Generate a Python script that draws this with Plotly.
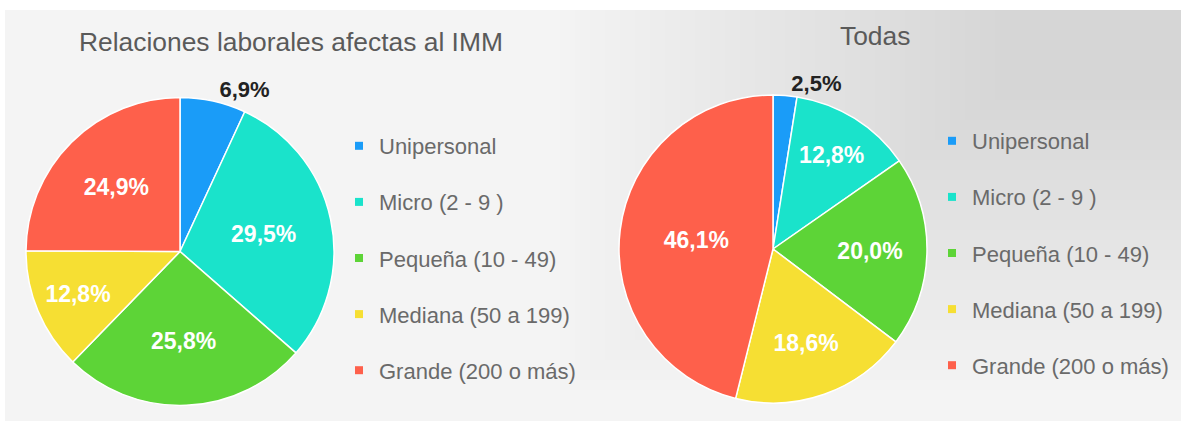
import plotly.graph_objects as go

W, H = 1181, 428

categories = ["Unipersonal", "Micro (2 - 9 )", "Pequeña (10 - 49)", "Mediana (50 a 199)", "Grande (200 o más)"]
imm_values = [6.9, 29.5, 25.8, 12.8, 24.9]
todas_values = [2.5, 12.8, 20.0, 18.6, 46.1]
colors = ["#1a9cf8", "#1ae3cb", "#5dd437", "#f6df33", "#fe604b"]
title_left = "Relaciones laborales afectas al IMM"
title_right = "Todas"

FONT = "Liberation Sans"


def px_x(x):
    return x / W


def px_y(y):
    return 1 - y / H


fig = go.Figure()


def add_pie(values, cx, cy, r):
    positions = ["outside" if v < 10 else "inside" for v in values]
    fig.add_trace(go.Pie(
        labels=categories,
        values=values,
        sort=False,
        direction="clockwise",
        rotation=0,
        marker=dict(colors=colors, line=dict(color="white", width=1.5)),
        texttemplate="%{value:.1f}%",
        textposition=positions,
        insidetextorientation="horizontal",
        insidetextfont=dict(family=FONT, size=23, color="white", weight="bold"),
        outsidetextfont=dict(family=FONT, size=22, color="#222222", weight="bold"),
        showlegend=False,
        domain=dict(x=[px_x(cx - r), px_x(cx + r)], y=[px_y(cy + r), px_y(cy - r)]),
        hoverinfo="label+percent",
    ))


add_pie(imm_values, 180, 251.5, 154)
add_pie(todas_values, 773, 249, 154)

# legend entries (one group per category so spacing can be controlled)
for legend_name in ["legend", "legend2"]:
    for cat, col in zip(categories, colors):
        fig.add_trace(go.Scatter(
            x=[None], y=[None], mode="markers",
            marker=dict(symbol="square", size=8, color=col),
            name=cat, legend=legend_name, legendgroup=legend_name + cat,
            showlegend=True, hoverinfo="skip",
        ))

legend_style = dict(
    font=dict(family=FONT, size=22, color="#6a6a6a"),
    bgcolor="rgba(0,0,0,0)",
    tracegroupgap=24.5,
    itemsizing="trace",
    xanchor="left",
    yanchor="top",
)

# soft background: light panel plus a faint darker wash towards the upper right
shapes = [
    dict(type="rect", xref="paper", yref="paper", layer="below",
         x0=px_x(5), x1=1, y0=px_y(421), y1=px_y(10),
         fillcolor="#f4f4f4", line=dict(width=0)),
]
N = 30
for k in range(N):
    shapes.append(dict(
        type="rect", xref="paper", yref="paper", layer="below",
        x0=px_x(560 + k * 15), x1=1, y0=px_y(390 - k * 10), y1=px_y(10),
        fillcolor="rgba(0,0,0,0.0025)", line=dict(width=0)))

fig.update_layout(
    width=W, height=H,
    margin=dict(l=0, r=0, t=0, b=0),
    paper_bgcolor="white",
    plot_bgcolor="rgba(0,0,0,0)",
    separators=",.",
    xaxis=dict(visible=False, domain=[0.99, 1]),
    yaxis=dict(visible=False, domain=[0.99, 1]),
    legend=dict(x=px_x(339), y=px_y(125), **legend_style),
    legend2=dict(x=px_x(932), y=px_y(120), **legend_style),
    shapes=shapes,
    annotations=[
        dict(text=title_left, x=px_x(291), y=px_y(42), xref="paper", yref="paper",
             showarrow=False, xanchor="center", yanchor="middle",
             font=dict(family=FONT, size=26.4, color="#5a5a5a")),
        dict(text=title_right, x=px_x(875), y=px_y(36), xref="paper", yref="paper",
             showarrow=False, xanchor="center", yanchor="middle",
             font=dict(family=FONT, size=26.4, color="#5a5a5a")),
    ],
)

fig.write_html("out.html", config={"displayModeBar": False},
               post_script="document.body.style.margin='0';")
